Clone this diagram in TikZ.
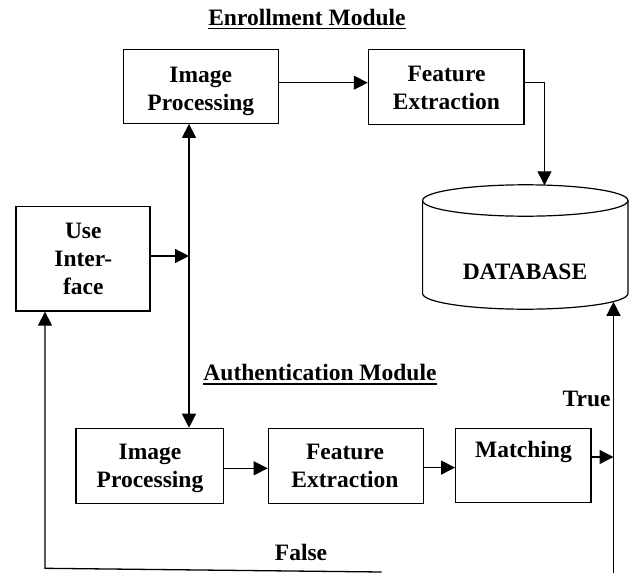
\documentclass[tikz,border=0pt]{standalone}
\usepackage{fontspec}
\setmainfont{Liberation Serif}
\usetikzlibrary{arrows.meta,calc}
\begin{document}
\begin{tikzpicture}[x=1pt,y=-1pt,
  box/.style={draw, line width=1.2pt, inner sep=0pt},
  txt/.style={font=\bfseries\fontsize{23.5}{28}\selectfont, align=center, inner sep=0pt},
  conn/.style={line width=1.3pt},
  arr/.style={conn, -{Triangle[length=14pt,width=14pt]}},
  darr/.style={conn, {Triangle[length=14pt,width=14pt]}-{Triangle[length=14pt,width=14pt]}},
  uline/.style={line width=1.6pt}
  ]
\useasboundingbox (0,0) rectangle (630,573);

% titles
\node[txt, anchor=base] (t1) at (307,25) {Enrollment Module};
\draw[uline] ([yshift=-3.5pt]t1.base west) -- ([yshift=-3.5pt]t1.base east);
\node[txt, anchor=base] (t2) at (320,380.7) {Authentication Module};
\draw[uline] ([yshift=-3.5pt]t2.base west) -- ([yshift=-3.5pt]t2.base east);

% enrollment boxes
\node[box, minimum width=155pt, minimum height=74pt] (ipE) at (200.8,86.3) {};
\node[txt] (ipEt) at (200.8,91.3) {Image\\Processing};
\node[box, minimum width=155.7pt, minimum height=75pt] (fE) at (446.2,86.8) {};
\node[txt] (fEt) at (446.5,88.1) {Feature\\Extraction};

% user interface
\node[box, minimum width=134pt, minimum height=104.3pt] (ui) at (83,258.9) {};
\node[txt] (uit) at (83.3,259.4) {Use\\Inter-\\face};

% database cylinder
\draw[line width=1.2pt] (525.3,200.5) ellipse [x radius=102.7, y radius=15.7];
\draw[line width=1.2pt] (422.6,200.5) -- (422.6,293.5)
  arc[start angle=180, end angle=0, x radius=102.7, y radius=15.7] -- (628,200.5);
\node[txt] (db) at (525,271.4) {DATABASE};
\coordinate (dbtop) at (544.5,185.3);
\coordinate (dbbot) at (613.5,301.8);

% authentication boxes
\node[box, minimum width=147.3pt, minimum height=75pt] (ipA) at (149.7,465.8) {};
\node[txt] (ipAt) at (150,468.8) {Image\\Processing};
\node[box, minimum width=155pt, minimum height=75pt] (fA) at (345.8,465.8) {};
\node[txt] (fAt) at (345,466.4) {Feature\\Extraction};
\node[box, minimum width=135.3pt, minimum height=74.4pt] (match) at (523.3,465.5) {};
\node[txt] (matcht) at (523.5,451.9) {Matching};

% labels
\node[txt, anchor=base east] (true) at (610.7,406) {True};
\node[txt, anchor=base] (false) at (301,560) {False};

% connectors
\coordinate (vx) at (189,0);
\draw[darr] (vx |- ipE.south) -- (vx |- ipA.north);
\coordinate (uiOut) at ([yshift=2.9pt]ui.east);
\draw[arr] (uiOut) -- (vx |- uiOut);
\coordinate (eOut) at ([yshift=3.6pt]ipE.east);
\draw[arr] (eOut) -- (eOut -| fE.west);
\coordinate (fOut) at ([yshift=4.1pt]fE.east);
\draw[arr] (fOut) -- (dbtop |- fOut) -- (dbtop);

\coordinate (aOut) at ([yshift=-2.5pt]ipA.east);
\draw[arr] (aOut) -- (aOut -| fA.west);
\coordinate (bOut) at ([yshift=-1.8pt]fA.east);
\draw[arr] (bOut) -- (bOut -| match.west);
\coordinate (rbot) at (613.5,573);
\coordinate (mOut) at ([yshift=8.5pt]match.east);
\draw[arr] (mOut) -- (mOut -| rbot);
\draw[arr] (rbot) -- (dbbot);

\coordinate (fend) at (381.7,572);
\coordinate (fcorner) at (45,568.3);
\draw[arr] (fend) -- (fcorner) -- (fcorner |- ui.south);
\end{tikzpicture}
\end{document}
